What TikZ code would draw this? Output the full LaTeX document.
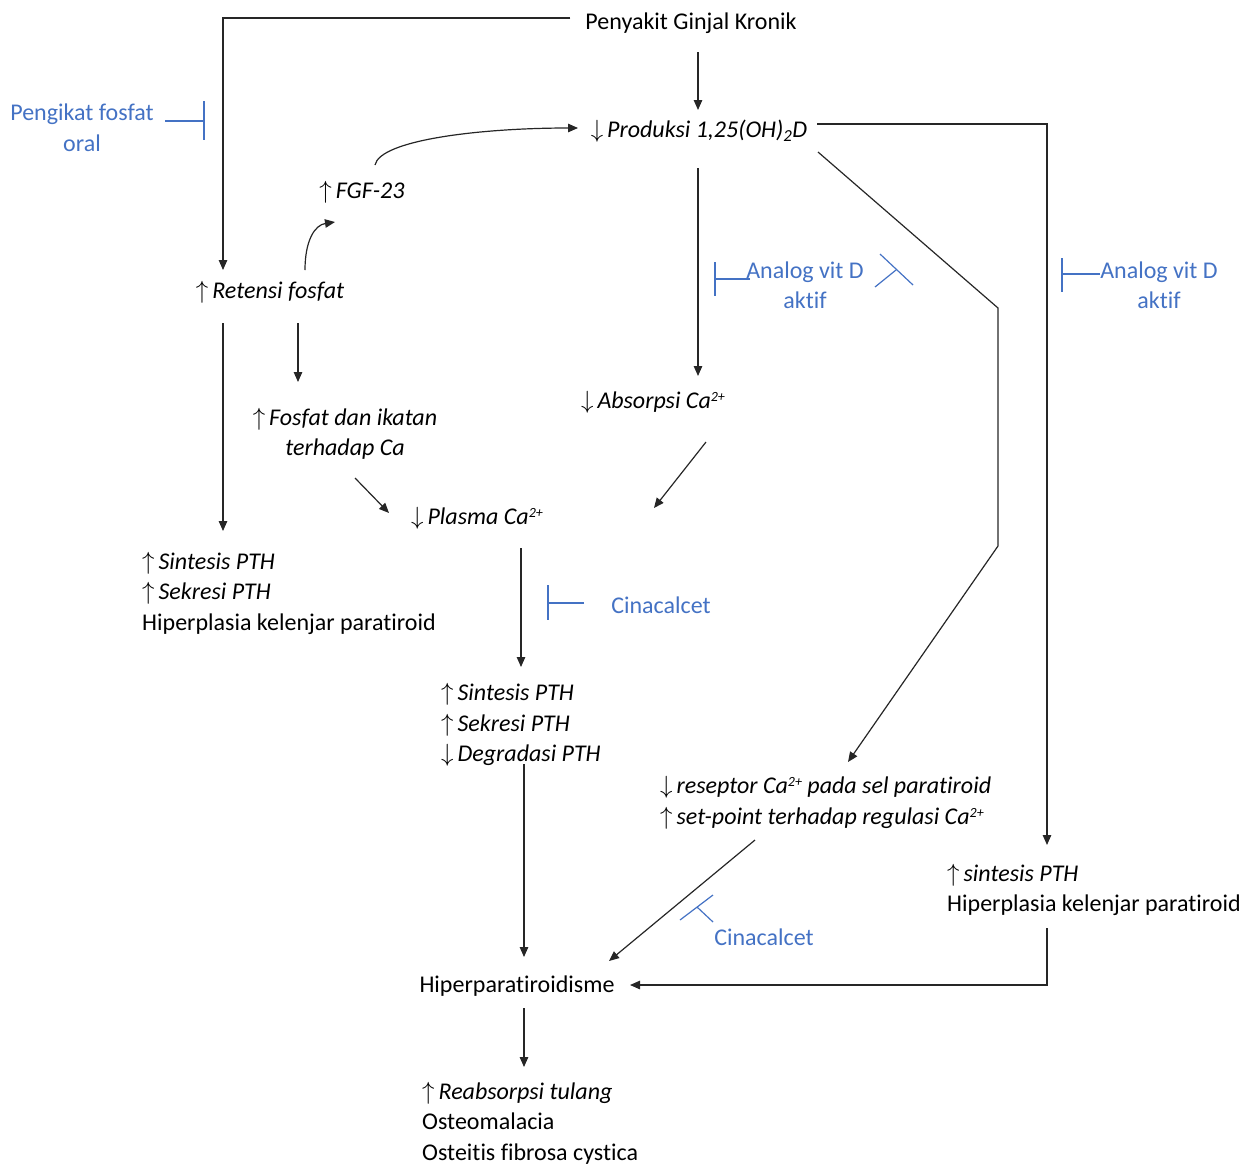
\documentclass[tikz,border=0pt]{standalone}
\usepackage{fontspec}
\setmainfont{Carlito}[Ligatures=NoCommon]
\usetikzlibrary{arrows.meta}
\definecolor{bl}{HTML}{4472C4}
\newcommand{\UpA}{$\uparrow$\,}
\newcommand{\DnA}{$\downarrow$\,}
\newcommand{\SupTwo}{\raisebox{7pt}{\fontsize{14}{14}\selectfont 2+}}
\tikzset{
  txt/.style={inner sep=0pt, yshift=-2pt, font=\fontsize{24}{30.5}\selectfont},
  itx/.style={inner sep=0pt, yshift=-2pt, font=\fontsize{24}{30.5}\selectfont\itshape},
  btx/.style={inner sep=0pt, yshift=-1pt, font=\fontsize{24}{30.5}\selectfont, text=bl, align=center},
  ln/.style={line width=1.2pt, draw=black!85},
  ar/.style={ln, -{Triangle[length=10pt,width=8.5pt]}},
  inh/.style={draw=bl, line width=1.2pt},
}
\begin{document}
\begin{tikzpicture}[x=1pt,y=-1pt]
\useasboundingbox (0,0) rectangle (1255,1165);
% nodes
\node[txt] (pgk) at (691,21) {Penyakit Ginjal Kronik};
\node[itx] (prod) at (699,129) {\DnA Produksi 1,25(OH)\textsubscript{2}D};
\node[itx] (fgf) at (362,190) {\UpA FGF-23};
\node[itx] (ret) at (270,290) {\UpA Retensi fosfat};
\node[itx, align=center] (fos) at (345,432) {\UpA Fosfat dan ikatan\\terhadap Ca};
\node[itx] (abs) at (653,400) {\DnA Absorpsi Ca\SupTwo};
\node[itx] (pla) at (477,516) {\DnA Plasma Ca\SupTwo};
\node[txt, align=left, anchor=west] (syn1) at (142,591) {\textit{\UpA Sintesis PTH}\\\textit{\UpA Sekresi PTH}\\Hiperplasia kelenjar paratiroid};
\node[itx, align=left, anchor=west] (syn2) at (441,723) {\UpA Sintesis PTH\\\UpA Sekresi PTH\\\DnA Degradasi PTH};
\node[itx, align=left, anchor=west] (rec) at (660,801) {\DnA reseptor Ca\SupTwo{} pada sel paratiroid\\\UpA set-point terhadap regulasi Ca\SupTwo};
\node[txt, align=left, anchor=west] (syn3) at (947,888) {\textit{\UpA sintesis PTH}\\Hiperplasia kelenjar paratiroid};
\node[txt] (hpt) at (517,984) {Hiperparatiroidisme};
\node[txt, align=left, anchor=west] (bone) at (422,1121) {\textit{\UpA Reabsorpsi tulang}\\Osteomalacia\\Osteitis fibrosa cystica};
% blue labels
\node[btx] (pf) at (82,127) {Pengikat fosfat\\oral};
\node[btx] (av1) at (805,284) {Analog vit D\\aktif};
\node[btx] (av2) at (1159,284) {Analog vit D\\aktif};
\node[btx] (cin1) at (661,604) {Cinacalcet};
\node[btx] (cin2) at (764,936) {Cinacalcet};
% connectors
\draw[ar] ([shift={(-15,-5)}]pgk.west) -| ([shift={(-47,-22)}]ret.center);
\draw[ar] ([shift={(7,29)}]pgk.center) -- ([shift={(-1,-21)}]prod.center);
\draw[ar] ([shift={(10,-7)}]prod.east) -| ([shift={(100,-45)}]syn3.west);
\draw[ar] ([shift={(119,21)}]prod.center) -- (998,308) -- (998,546) -- ([shift={(188,-41)}]rec.west);
\draw[ar] ([shift={(-1,37)}]prod.center) -- ([shift={(45,-26)}]abs.center);
\draw[ar] ([shift={(13,-27)}]fgf.center) .. controls (380,140) and (480,128) .. ([shift={(-121,-3)}]prod.center);
\draw[ar] ([shift={(35,-22)}]ret.center) .. controls (305,240) and (315,225) .. ([shift={(-27,30)}]fgf.center);
\draw[ar] ([shift={(28,31)}]ret.center) -- ([shift={(-47,-52)}]fos.center);
\draw[ar] ([shift={(-47,31)}]ret.center) -- ([shift={(81,-62)}]syn1.west);
\draw[ar] ([shift={(10,44)}]fos.center) -- ([shift={(-88,-5)}]pla.center);
\draw[ar] ([shift={(53,40)}]abs.center) -- ([shift={(177,-10)}]pla.center);
\draw[ar] ([shift={(44,30)}]pla.center) -- ([shift={(80,-58)}]syn2.west);
\draw[ar] ([shift={(83,39)}]syn2.west) -- ([shift={(7,-29)}]hpt.center);
\draw[ar] ([shift={(95,37)}]rec.west) -- ([shift={(92,-25)}]hpt.center);
\draw[ar] ([shift={(100,38)}]syn3.west) |- ([shift={(113,-1)}]hpt.center);
\draw[ar] ([shift={(7,22)}]hpt.center) -- ([shift={(102,-56)}]bone.west);
% inhibition marks
\draw[inh] ([shift={(83,-7)}]pf.center) -- ++(39,0) coordinate (pfb);
\draw[inh] ([shift={(0,-20)}]pfb) -- ([shift={(0,19)}]pfb);
\draw[inh] ([shift={(-55,-6)}]av1.center) -- ([shift={(-90,-6)}]av1.center) coordinate (a1b);
\draw[inh] ([shift={(0,-17)}]a1b) -- ([shift={(0,17)}]a1b);
\draw[inh] ([shift={(75,-31)}]av1.center) -- ([shift={(108,0)}]av1.center);
\draw[inh] ([shift={(91,-15)}]av1.center) -- ([shift={(70,2)}]av1.center);
\draw[inh] ([shift={(-59,-11)}]av2.center) -- ([shift={(-97,-11)}]av2.center) coordinate (a2b);
\draw[inh] ([shift={(0,-16)}]a2b) -- ([shift={(0,18)}]a2b);
\draw[inh] ([shift={(-77,-2)}]cin1.center) -- ([shift={(-113,-2)}]cin1.center) coordinate (c1b);
\draw[inh] ([shift={(0,-18)}]c1b) -- ([shift={(0,17)}]c1b);
\draw[inh] ([shift={(-84,-17)}]cin2.center) -- ([shift={(-51,-42)}]cin2.center);
\draw[inh] ([shift={(-67,-30)}]cin2.center) -- ([shift={(-51,-15)}]cin2.center);
\end{tikzpicture}
\end{document}
